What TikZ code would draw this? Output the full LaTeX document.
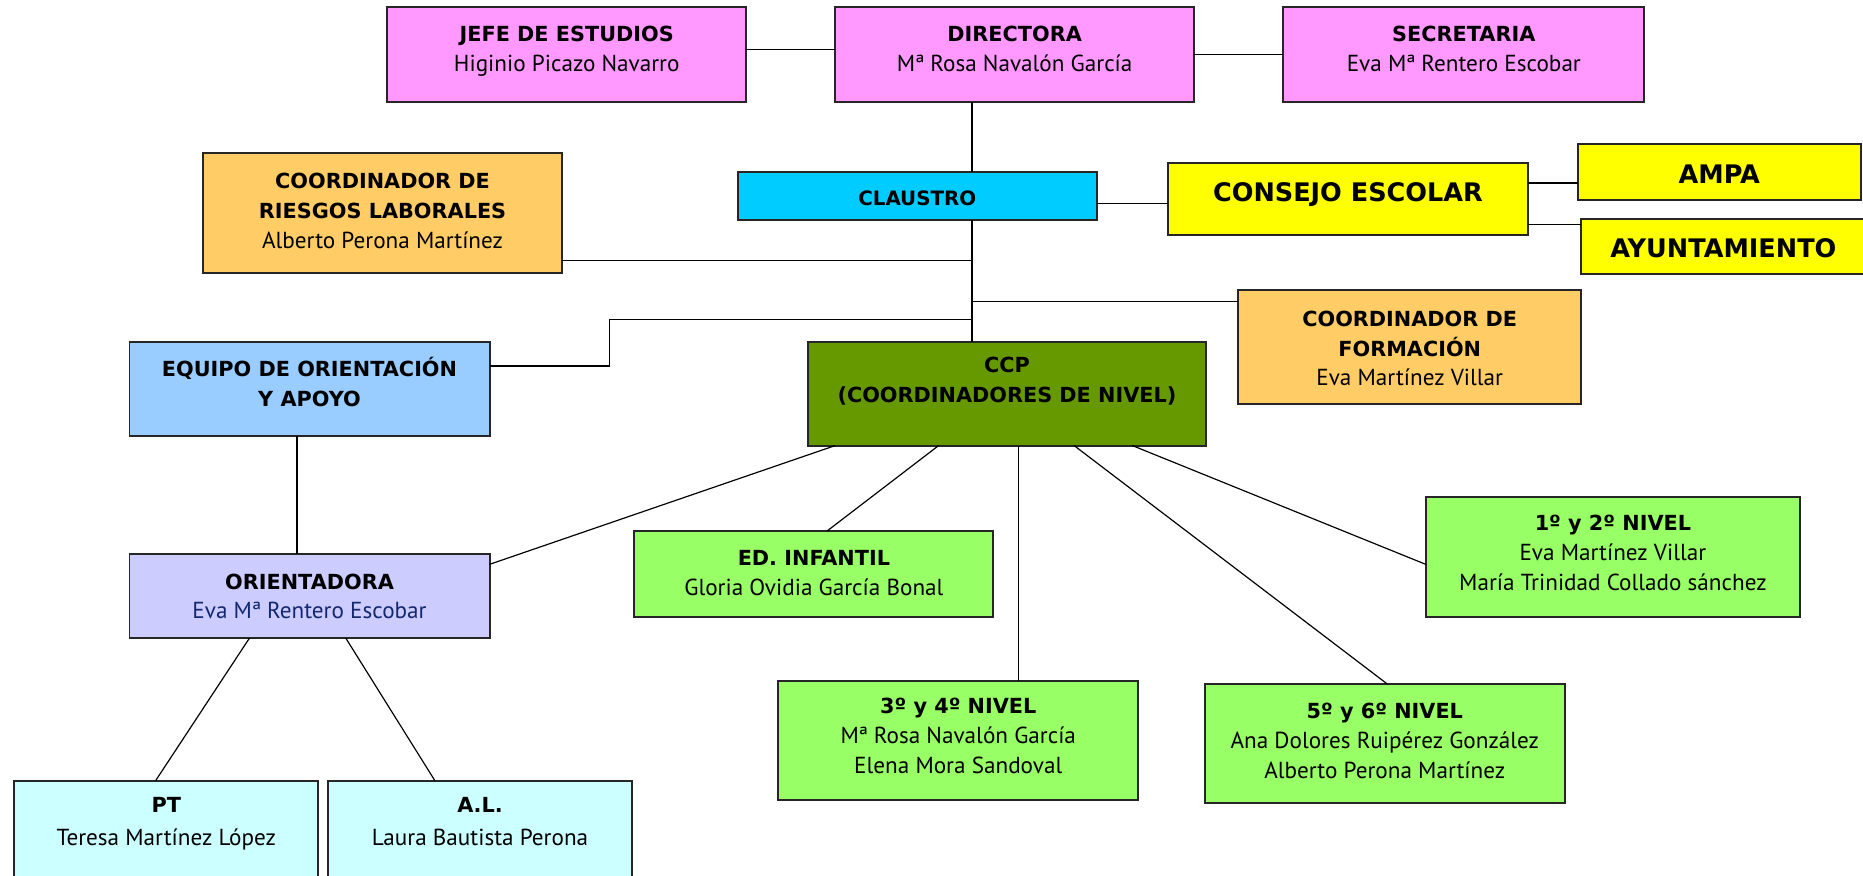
\documentclass[tikz,border=0pt]{standalone}
\usepackage{fontspec}
\setmainfont{PT Sans}
\newfontfamily\titlefont{DejaVu Sans}
\usetikzlibrary{calc}
\definecolor{cpink}{HTML}{FF99FF}
\definecolor{ccyan}{HTML}{00CCFF}
\definecolor{cyel}{HTML}{FFFF00}
\definecolor{corange}{HTML}{FFCC66}
\definecolor{cblue}{HTML}{99CCFF}
\definecolor{colive}{HTML}{669900}
\definecolor{clav}{HTML}{CCCCFF}
\definecolor{clgreen}{HTML}{99FF66}
\definecolor{cice}{HTML}{CCFFFF}
\definecolor{cnavy}{RGB}{20,40,110}
\newcommand\orgbox[6]{\node[box,fill=#2,minimum width={(#5-#3)*0.6pt},minimum height={(#6-#4)*0.6pt}] (#1) at ({(#3+#5)/2},{(#4+#6)/2}) {};}
\newcommand\ttl[1]{{\titlefont\bfseries\fontsize{10.5}{15}\selectfont #1}}
\begin{document}
\begin{tikzpicture}[x=0.6pt,y=-0.6pt,
  box/.style={draw=black!85,line width=1pt,inner sep=0pt,outer sep=0pt},
  txt/.style={anchor=north,align=center,inner sep=0pt,font=\fontsize{11.7}{15}\selectfont},
  big/.style={inner sep=0pt,font=\titlefont\bfseries\fontsize{12.9}{16}\selectfont},
  mid/.style={inner sep=0pt,font=\titlefont\bfseries\fontsize{10}{15}\selectfont},
  link/.style={draw=black,line width=0.6pt}]
\useasboundingbox (0,0) rectangle (1568,736.5);
\clip (0,0) rectangle (1568,736.5);
\fill[white] (0,0) rectangle (1568,736.5);

% boxes
\orgbox{jefe}{cpink}{326}{6}{628}{86}
\orgbox{dir}{cpink}{703}{6}{1005}{86}
\orgbox{sec}{cpink}{1080}{6}{1384}{86}
\orgbox{cl}{ccyan}{621}{145}{923}{185}
\orgbox{consejo}{cyel}{983}{137}{1286}{198}
\orgbox{ampa}{cyel}{1328}{121}{1566}{168}
\orgbox{ayto}{cyel}{1331}{184}{1572}{231}
\orgbox{ries}{corange}{171}{129}{473}{230}
\orgbox{form}{corange}{1042}{244}{1331}{340}
\orgbox{equipo}{cblue}{109}{288}{412}{367}
\orgbox{ccp}{colive}{680}{288}{1015}{375}
\orgbox{orient}{clav}{109}{466}{412}{537}
\orgbox{edinf}{clgreen}{534}{447}{836}{519}
\orgbox{nuno}{clgreen}{1200}{418}{1515}{519}
\orgbox{ntres}{clgreen}{655}{573}{958}{673}
\orgbox{ncinco}{clgreen}{1014}{576}{1317}{676}
\orgbox{pt}{cice}{12}{657}{268}{745}
\orgbox{al}{cice}{276}{657}{532}{745}

% texts
\node[txt] (jefeT) at ([yshift=-6.6pt]jefe.north) {\strut\ttl{JEFE DE ESTUDIOS}\\Higinio Picazo Navarro};
\node[txt] (dirT) at ([yshift=-6.6pt]dir.north) {\strut\ttl{DIRECTORA}\\Mª Rosa Navalón García};
\node[txt] (secT) at ([yshift=-6.6pt]sec.north) {\strut\ttl{SECRETARIA}\\Eva Mª Rentero Escobar};
\node[mid] (clT) at ([yshift=-1.2pt]cl.center) {CLAUSTRO};
\node[big] (consejoT) at ([yshift=2.3pt]consejo.center) {CONSEJO ESCOLAR};
\node[big] (ampaT) at ([yshift=-1.5pt]ampa.center) {AMPA};
\node[big] (aytoT) at ([yshift=-0.9pt,xshift=-0.6pt]ayto.center) {AYUNTAMIENTO};
\node[txt] (riesT) at ([yshift=-7.2pt]ries.north) {\strut\ttl{COORDINADOR DE}\\\ttl{RIESGOS LABORALES}\\Alberto Perona Martínez};
\node[txt] (formT) at ([yshift=-7.8pt]form.north) {\strut\ttl{COORDINADOR DE}\\\ttl{FORMACIÓN}\\Eva Martínez Villar};
\node[txt] (equipoT) at ([yshift=-6.6pt]equipo.north) {\strut\ttl{EQUIPO DE ORIENTACIÓN}\\\ttl{Y APOYO}};
\node[txt] (ccpT) at ([yshift=-4.8pt]ccp.north) {\strut\ttl{CCP}\\\ttl{(COORDINADORES DE NIVEL)}};
\node[txt] (orientT) at ([yshift=-7.2pt]orient.north) {\strut\ttl{ORIENTADORA}\\\textcolor{cnavy}{Eva Mª Rentero Escobar}};
\node[txt] (edinfT) at ([yshift=-6.6pt]edinf.north) {\strut\ttl{ED. INFANTIL}\\Gloria Ovidia García Bonal};
\node[txt] (nunoT) at ([yshift=-6.6pt]nuno.north) {\strut\ttl{1º y 2º NIVEL}\\Eva Martínez Villar\\María Trinidad Collado sánchez};
\node[txt] (ntresT) at ([yshift=-6pt]ntres.north) {\strut\ttl{3º y 4º NIVEL}\\Mª Rosa Navalón García\\Elena Mora Sandoval};
\node[txt] (ncincoT) at ([yshift=-6.6pt]ncinco.north) {\strut\ttl{5º y 6º NIVEL}\\Ana Dolores Ruipérez González\\Alberto Perona Martínez};
\node[txt] (ptT) at ([yshift=-5.4pt]pt.north) {\strut\ttl{PT}\\[1.8pt]Teresa Martínez López};
\node[txt] (alT) at ([yshift=-5.4pt]al.north) {\strut\ttl{A.L.}\\[1.8pt]Laura Bautista Perona};

% helper coordinates
\coordinate (sx) at (818,0);
\coordinate (kA) at (703,0);
\coordinate (kB) at (790,0);
\coordinate (kC) at (857,0);
\coordinate (kD) at (904,0);
\coordinate (kE) at (953,0);
\coordinate (eb) at (513,268.6);

% connectors
\draw[link] ([yshift=2.4pt]jefe.east) -- ([yshift=2.4pt]dir.west);
\draw[link] (dir.east) -- (sec.west);
\draw[link] (dir.south -| sx) -- (cl.north -| sx);
\draw[link] (cl.south -| sx) -- (ccp.north -| sx);
\coordinate (clj) at ([yshift=-3.6pt]cl.east);
\draw[link] (clj) -- (clj -| consejo.west);
\coordinate (cja) at ([yshift=8.1pt]consejo.east);
\draw[link] (cja) -- (cja -| ampa.west);
\coordinate (cjb) at ([yshift=-12.7pt]consejo.east);
\draw[link] (cjb) -- (cjb -| ayto.west);
\coordinate (rj) at ([yshift=6.6pt]ries.south east);
\draw[link] (rj) -- (rj -| sx);
\coordinate (fj) at ([yshift=-6pt]form.north west);
\draw[link] (fj) -- (fj -| sx);
\coordinate (ej) at ([yshift=-12pt]equipo.north east);
\draw[link] (ej) -| (eb) -- (eb -| sx);
\draw[link] ([xshift=-6.3pt]equipo.south) -- ([xshift=-6.3pt]orient.north);
\draw[link] (ccp.south -| kA) -- ([yshift=-5.4pt]orient.north east);
\draw[link] (ccp.south -| kB) -- ([xshift=6.6pt]edinf.north);
\draw[link] (ccp.south -| kC) -- (ntres.north -| kC);
\draw[link] (ccp.south -| kD) -- ([xshift=1.5pt]ncinco.north);
\draw[link] (ccp.south -| kE) -- ([yshift=-3.9pt]nuno.west);
\draw[link] ([xshift=60.6pt]orient.south west) -- ([xshift=71.4pt]pt.north west);
\draw[link] ([xshift=109.2pt]orient.south west) -- ([xshift=54pt]al.north west);
\end{tikzpicture}
\end{document}
